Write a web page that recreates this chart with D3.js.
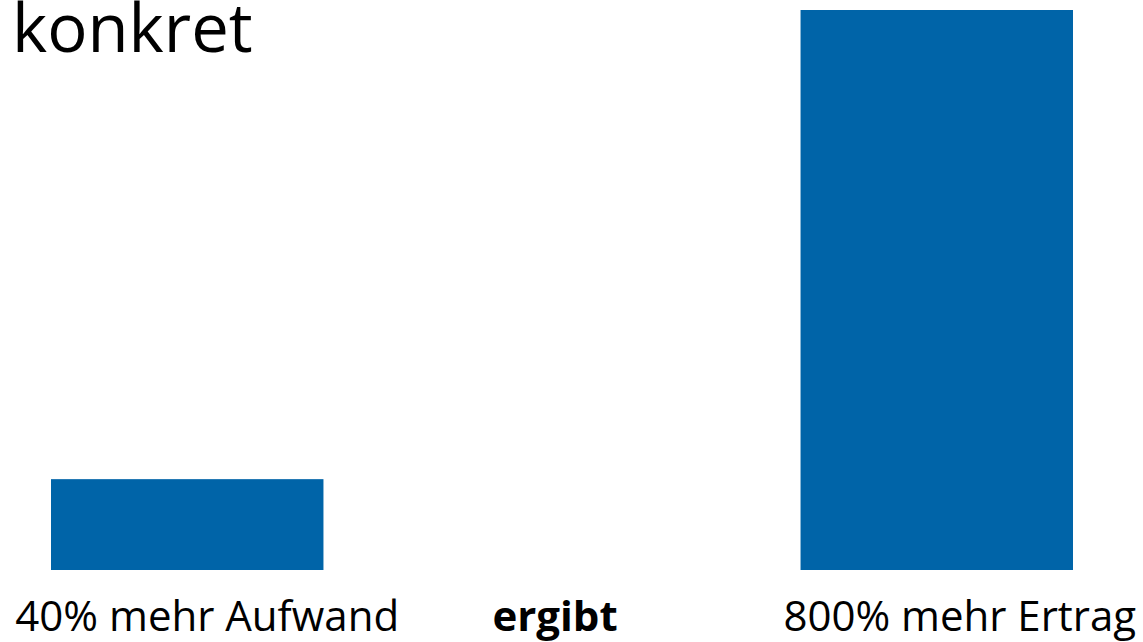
<!DOCTYPE html>
<html>
<head>
<meta charset="utf-8">
<script src="https://cdn.jsdelivr.net/npm/d3@7"></script>
<style>
  body { margin: 0; background: #fff; }
  svg { display: block; }
</style>
</head>
<body>
<script>
// chart data
var categories = ["aufwand", "ergibt", "ertrag"];
var labels = ["40% mehr Aufwand", "ergibt", "800% mehr Ertrag"];
var values = [1.46, null, 9];   // middle slot has no bar
var title = "konkret";

var width = 1143, height = 642;

var svg = d3.select("body").append("svg")
    .attr("width", width)
    .attr("height", height);

// set the ranges
var x = d3.scaleBand()
    .domain(categories)
    .range([51, 1073])
    .paddingInner(0.273)
    .paddingOuter(0);

var y = d3.scaleLinear()
    .domain([0, 9])
    .range([570, 10]);

// bars
svg.selectAll(".bar")
    .data(categories.filter(function(c, i) { return values[i] != null; }))
    .enter().append("rect")
    .attr("class", "bar")
    .attr("x", function(d) { return x(d); })
    .attr("width", x.bandwidth())
    .attr("y", function(d) { return y(values[categories.indexOf(d)]); })
    .attr("height", function(d) { return y(0) - y(values[categories.indexOf(d)]); })
    .attr("fill", "#0064a8");

// category labels under the bars
var labelShift = [20, -7, 23];
svg.selectAll(".lbl")
    .data(categories)
    .enter().append("text")
    .attr("class", "lbl")
    .attr("x", function(d, i) { return x(d) + x.bandwidth() / 2 + labelShift[i]; })
    .attr("y", 631)
    .attr("text-anchor", "middle")
    .attr("font-family", "'Open Sans', sans-serif")
    .attr("font-size", "42px")
    .attr("font-weight", function(d, i) { return i == 1 ? "bold" : "normal"; })
    .attr("fill", "#000")
    .text(function(d, i) { return labels[i]; });

// title
svg.append("text")
    .attr("x", 12)
    .attr("y", 52)
    .attr("font-family", "'Open Sans', sans-serif")
    .attr("font-size", "67px")
    .attr("fill", "#000")
    .text(title);
</script>
</body>
</html>
